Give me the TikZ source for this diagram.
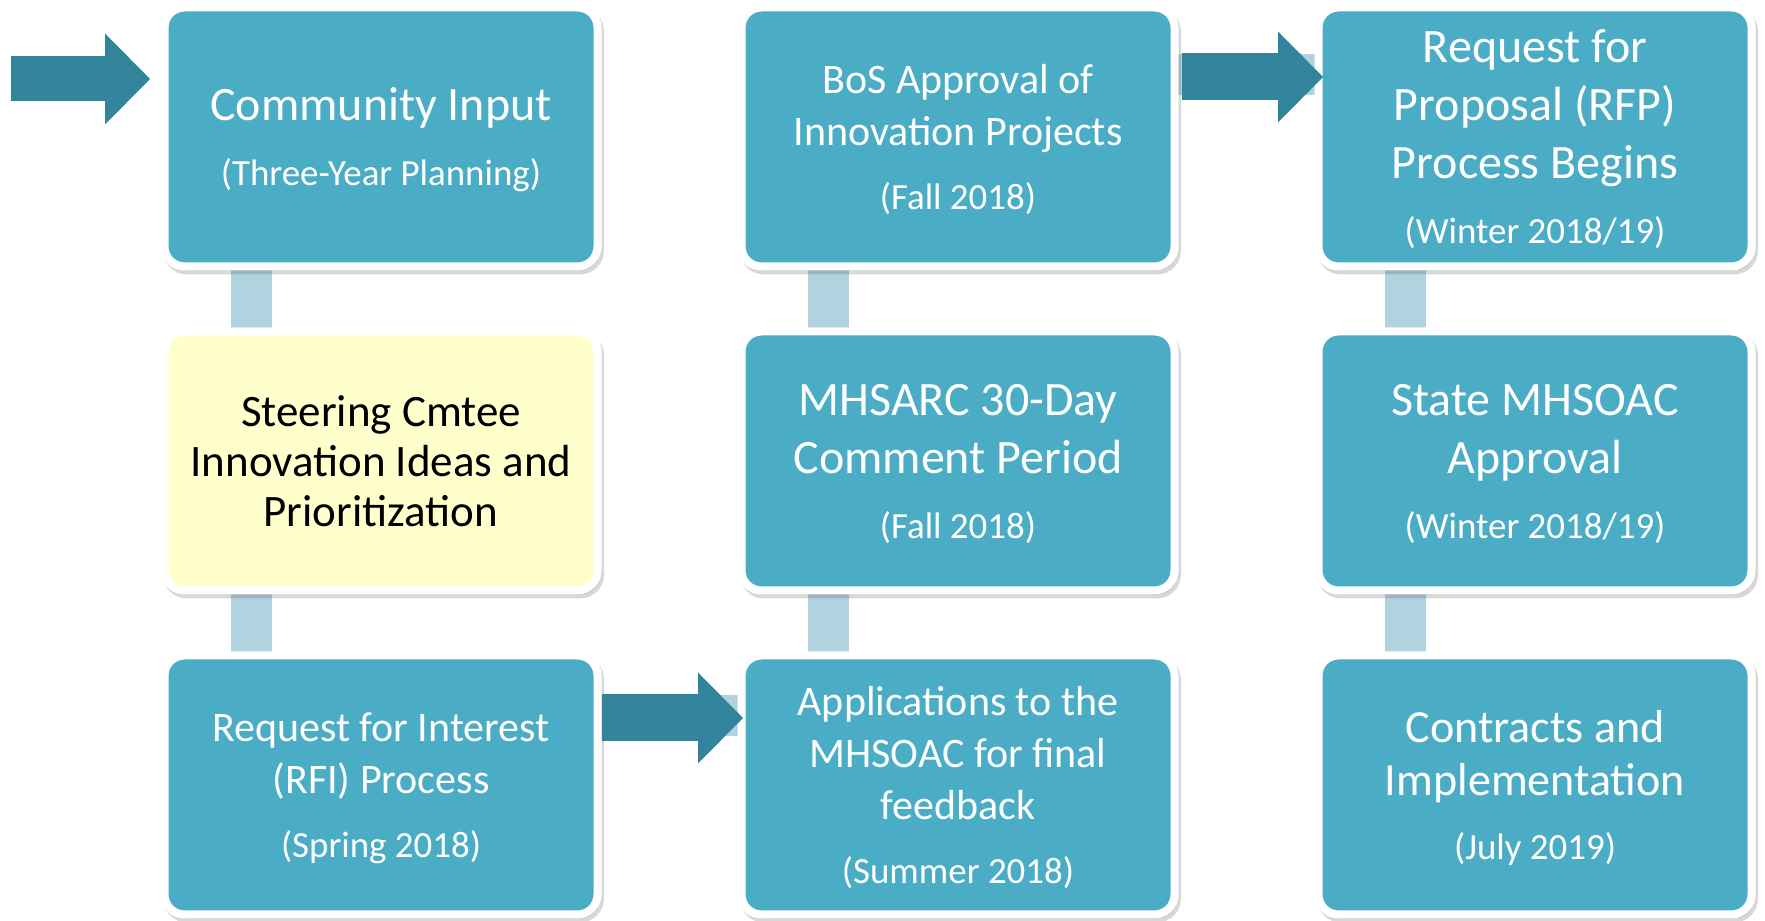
\documentclass[tikz,border=0pt]{standalone}
\usepackage{fontspec}
\setmainfont{Carlito}
\usepackage{tikz}
\usetikzlibrary{arrows.meta, positioning, shadows, backgrounds}
\definecolor{AquaBox}{RGB}{75,172,198}
\definecolor{DeepAqua}{RGB}{49,132,155}
\definecolor{PaleAqua}{RGB}{176,211,223}
\definecolor{PaleYellow}{RGB}{255,255,204}

% smaller date line under a stage title
\newcommand{\when}[2][0.14cm]{\\[#1]{\fontsize{21pt}{25.6pt}\selectfont #2}}

\begin{document}
\begin{tikzpicture}[
  stage/.style={draw=white, line width=0.16cm, fill=AquaBox, rounded corners=0.4cm,
                minimum width=8.66cm, minimum height=5.18cm, inner sep=0pt,
                outer sep=0pt, align=center, text=white, text depth=-0.1cm,
                drop shadow={opacity=0.22, shadow xshift=0.05cm, shadow yshift=-0.08cm,
                             fill=black!70, draw=black!70, line width=0.16cm}},
  hilite/.style={stage, fill=PaleYellow, text=black, text depth=0pt},
  big/.style={font=\fontsize{27.3pt}{33pt}\selectfont},
  mid/.style={font=\fontsize{23.9pt}{29.6pt}\selectfont},
  bar/.style={PaleAqua, line width=0.82cm},
  bigarr/.style={DeepAqua, line width=0.94cm,
                 -{Triangle[length=0.9cm, width=1.82cm, line width=0pt]}},
  node distance=1.3cm and 2.88cm,
]
\useasboundingbox (0,0) rectangle (35.3,18.42);

\node[stage, big] (input) at (7.62,15.68) {Community Input\when{(Three-Year Planning)}};
\node[hilite, below=of input, font=\fontsize{25.6pt}{28.2pt}\selectfont] (ideas)
  {Steering Cmtee\\Innovation Ideas and\\Prioritization};
\node[stage, mid, below=of ideas] (rfi)
  {Request for Interest\\(RFI) Process\when[0.24cm]{(Spring 2018)}};

\node[stage, mid, right=of input] (bos)
  {BoS Approval of\\Innovation Projects\when[0.24cm]{(Fall 2018)}};
\node[stage, big, below=of bos] (comment)
  {MHSARC 30-Day\\Comment Period\when{(Fall 2018)}};
\node[stage, mid, below=of comment] (apps)
  {Applications to the\\MHSOAC for final\\feedback\when[0.24cm]{(Summer 2018)}};

\node[stage, big, right=of bos] (rfp)
  {Request for\\Proposal (RFP)\\Process Begins\when{(Winter 2018/19)}};
\node[stage, big, below=of rfp] (state)
  {State MHSOAC\\Approval\when{(Winter 2018/19)}};
\node[stage, below=of state, font=\fontsize{26.2pt}{30.2pt}\selectfont] (contracts)
  {Contracts and\\Implementation\when[0.22cm]{(July 2019)}};

\begin{scope}[on background layer]
  \foreach \a/\b in {input/ideas, ideas/rfi, bos/comment, comment/apps,
                     rfp/state, state/contracts}
    \draw[bar] ([xshift=-2.6cm]\a.south) -- ([xshift=-2.6cm]\b.north);
  \draw[bar] ([yshift=1.38cm]rfi.east) -- ([yshift=1.38cm]apps.west);
  \draw[bar] ([yshift=1.24cm]bos.east) -- ([yshift=1.24cm]rfp.west);
\end{scope}

\coordinate (entry) at ([xshift=-3.07cm, yshift=1.16cm]input.west);
\draw[bigarr, line width=0.9cm] (entry) -- ([xshift=-0.29cm, yshift=1.16cm]input.west);
\draw[bigarr] ([xshift=0.09cm, yshift=1.34cm]rfi.east) -- ([xshift=0.03cm, yshift=1.34cm]apps.west);
\draw[bigarr] ([xshift=0.15cm, yshift=1.2cm]bos.east) -- ([xshift=0.09cm, yshift=1.2cm]rfp.west);
\end{tikzpicture}
\end{document}
